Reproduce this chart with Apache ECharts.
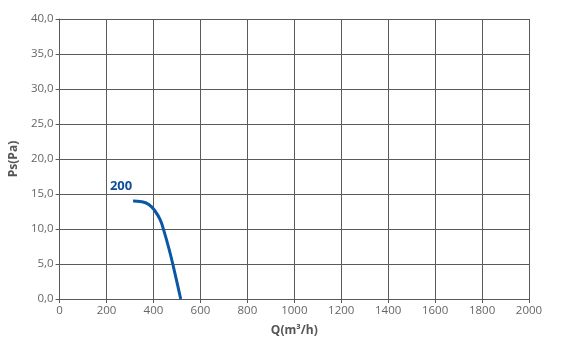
<!DOCTYPE html>
<html>
<head>
<meta charset="utf-8">
<script src="https://cdn.jsdelivr.net/npm/echarts@6/dist/echarts.min.js"></script>
<style>html,body{margin:0;padding:0;background:#fff}#c{width:576px;height:350px}</style>
</head>
<body>
<div id="c"></div>
<script>
var seriesName = '200';
var flowQ = [313, 350, 380, 408, 430, 443, 465, 485, 516];
var pressurePs = [14.0, 13.9, 13.5, 12.5, 11.2, 9.9, 7.3, 4.6, 0.0];
var xAxisTitle = 'Q(m³/h)';
var yAxisTitle = 'Ps(Pa)';

var data = flowQ.map(function (q, i) {
  var d = { value: [q, pressurePs[i]] };
  if (i === 0) {
    d.label = { show: true, position: 'top', offset: [-12, -3], formatter: seriesName,
      color: '#0b4f9c', fontWeight: 'bold', fontSize: 13, fontFamily: 'Open Sans' };
  }
  return d;
});

var chart = echarts.init(document.getElementById('c'));
var gridLine = { show: true, lineStyle: { color: '#5a5a5a', width: 1 } };
chart.setOption({
  animation: false,
  grid: { left: 55, right: 47, top: 19, bottom: 51 },
  xAxis: {
    type: 'value', min: 0, max: 2000, interval: 200,
    name: xAxisTitle, nameLocation: 'middle', nameGap: 26,
    nameTextStyle: { color: '#555', fontWeight: 'bold', fontSize: 12, fontFamily: 'Open Sans' },
    axisLine: { show: true, lineStyle: { color: '#5a5a5a' } },
    axisTick: { show: true, length: 4, lineStyle: { color: '#5a5a5a' } },
    axisLabel: { color: '#666', fontSize: 11.5, fontFamily: 'Open Sans', margin: 6,
      formatter: function (v) { return String(v); } },
    splitLine: gridLine
  },
  yAxis: {
    type: 'value', min: 0, max: 40, interval: 5,
    name: yAxisTitle, nameLocation: 'middle', nameGap: 38, nameRotate: 90,
    nameTextStyle: { color: '#555', fontWeight: 'bold', fontSize: 12, fontFamily: 'Open Sans' },
    axisLine: { show: true, lineStyle: { color: '#5a5a5a' } },
    axisTick: { show: true, length: 4, lineStyle: { color: '#5a5a5a' } },
    axisLabel: { color: '#666', fontSize: 11.5, fontFamily: 'Open Sans', margin: 6,
      formatter: function (v) { return v.toFixed(1).replace('.', ','); } },
    splitLine: gridLine
  },
  series: [{
    name: seriesName, type: 'line', smooth: true,
    symbol: 'circle', symbolSize: 0, showSymbol: true,
    lineStyle: { color: '#0b57a4', width: 3 },
    itemStyle: { color: '#0b57a4' },
    data: data
  }]
});
</script>
</body>
</html>
